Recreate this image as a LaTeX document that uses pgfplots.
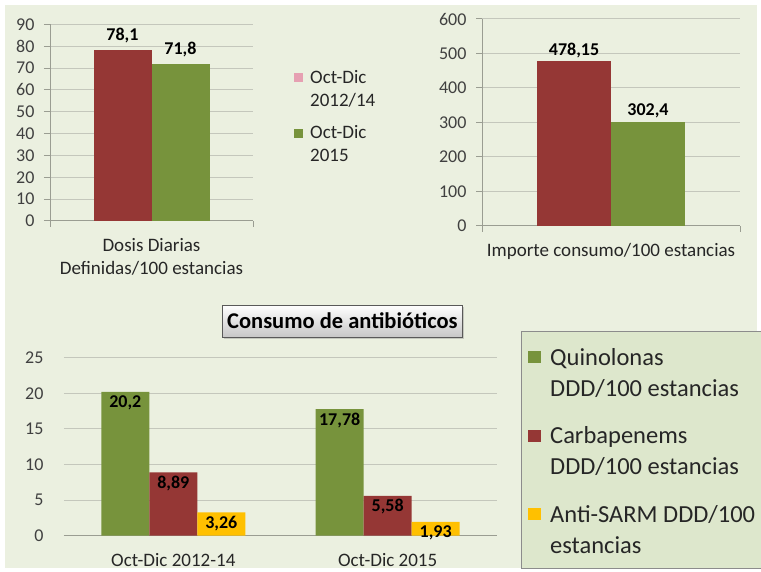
\documentclass[border=0pt]{standalone}
\usepackage{fontspec}
\setmainfont{Carlito}
\usepackage{pgfplots}
\pgfplotsset{compat=1.18}
\usetikzlibrary{shadows}
\definecolor{bgc}{HTML}{EBF0E0}
\definecolor{legc}{HTML}{DDE7CC}
\definecolor{redc}{HTML}{953735}
\definecolor{greenc}{HTML}{77933C}
\definecolor{yellowc}{HTML}{FFC000}
\definecolor{pinkc}{HTML}{E6A0B2}
\definecolor{gridc}{HTML}{C4C7BC}
\definecolor{axisc}{HTML}{9A9D92}
\definecolor{tickc}{HTML}{404040}
\definecolor{txtc}{HTML}{262626}
\pgfplotsset{
  mystyle/.style={
    scale only axis,
    axis x line*=bottom, axis y line*=left,
    axis line style={draw=axisc, line width=1pt},
    ymajorgrids, major grid style={draw=gridc, line width=1pt},
    tick style={draw=axisc, line width=1pt},
    tick align=outside,
    major tick length=6pt,
    /pgf/number format/assume math mode=true,
    /pgf/number format/1000 sep={},
    ticklabel style={font=\fontsize{18}{20}\selectfont, text=tickc},
    yticklabel style={xshift=-6pt},
    ymin=0,
    nodes near coords={\pgfmathprintnumber[use comma,fixed,precision=2,1000 sep={}]{\pgfplotspointmeta}},
    nodes near coords style={font=\bfseries\fontsize{18}{20}\selectfont, text=black},
    legend cell align=left,
  },
}
\begin{document}
\begin{tikzpicture}
\useasboundingbox (0,0) rectangle (761pt,571pt);
\fill[white] (0,0) rectangle (761pt,571pt);
\fill[bgc] (5pt,3pt) rectangle (757pt,566pt);
\filldraw[fill=legc, draw=black!45, line width=1pt] (521.7pt,239.3pt) rectangle (775pt,3pt);

% Chart 1
\begin{axis}[mystyle,
  at={(50pt,350pt)}, anchor=south west,
  width=203pt, height=196.7pt,
  ybar=0pt, bar width=58pt,
  xmin=-1, xmax=1, ymax=90, ytick={0,10,...,90},
  xtick={-1,1}, xticklabels={},
  extra x ticks={0},
  extra x tick labels={{Dosis Diarias\\Definidas/100 estancias}},
  extra x tick style={major tick length=0pt, xticklabel style={align=center, font=\fontsize{19}{23}\selectfont, text=txtc, yshift=-14pt}},
  nodes near coords style={yshift=4pt},
  legend style={at={(1.202,0.778)}, anchor=north west, draw=none, fill=none, inner sep=0pt,
    cells={anchor=west, align=left}, font=\fontsize{19}{23}\selectfont, text=txtc, row sep=14pt,
    /tikz/every odd column/.style={column sep=5pt}},
  legend image code/.code={\fill[#1, draw=none] (0pt,7pt) rectangle (9pt,16pt);},
]
\addplot[fill=redc, draw=none, legend image code/.code={\fill[pinkc] (0pt,7pt) rectangle (9pt,16pt);}] coordinates {(0,78.1)};
\addlegendentry{Oct-Dic\\2012/14}
\addplot[fill=greenc, draw=none] coordinates {(0,71.8)};
\addlegendentry{Oct-Dic\\2015}
\end{axis}

% Chart 2
\begin{axis}[mystyle,
  at={(482pt,345.3pt)}, anchor=south west,
  width=258pt, height=206.7pt,
  ybar=0pt, bar width=74pt,
  xmin=-1, xmax=1, ymax=600, ytick={0,100,...,600},
  xtick={-1,1}, xticklabels={},
  extra x ticks={0},
  extra x tick labels={{Importe consumo/100 estancias}},
  extra x tick style={major tick length=0pt, xticklabel style={align=center, font=\fontsize{19}{23}\selectfont, text=txtc, yshift=-14pt}},
]
\addplot[fill=redc, draw=none] coordinates {(0,478.15)};
\addplot[fill=greenc, draw=none] coordinates {(0,302.4)};
\end{axis}

% Chart 3
\begin{axis}[mystyle,
  at={(64pt,35.3pt)}, anchor=south west,
  width=433pt, height=178pt,
  ybar=0pt, bar width=48pt,
  xmin=-0.51, xmax=1.51, ymax=25, ytick={0,5,...,25},
  y axis line style={draw=none}, ytick style={draw=none},
  yticklabel style={xshift=-5pt},
  xtick={0,1}, xticklabels={Oct-Dic 2012-14, Oct-Dic 2015},
  xtick style={draw=none},
  xticklabel style={font=\fontsize{19}{23}\selectfont, text=txtc, yshift=-8pt},
  nodes near coords align={anchor=north},
  title={Consumo de antibióticos},
  title style={at={(0.643,1)}, anchor=center, yshift=30.7pt,
    font=\bfseries\fontsize{22.5}{25}\selectfont, text=black,
    draw=black!65, line width=0.8pt, top color=white, bottom color=black!22,
    minimum width=240pt, minimum height=32pt, inner sep=0pt,
    drop shadow={opacity=0.35, shadow xshift=1.5pt, shadow yshift=-1.5pt}},
  legend style={at={(1.0716,1.066)}, anchor=north west, draw=none, fill=none, inner sep=0pt,
    cells={anchor=west, align=left}, font=\fontsize{24.5}{31}\selectfont, text=txtc, row sep=25pt,
    /tikz/every odd column/.style={column sep=7pt}},
  legend image code/.code={\fill[#1, draw=none] (0pt,9.5pt) rectangle (13pt,21.5pt);},
]
\addplot[fill=greenc, draw=none] coordinates {(0,20.2) (1,17.78)};
\addlegendentry{Quinolonas\\DDD/100 estancias}
\addplot[fill=redc, draw=none] coordinates {(0,8.89) (1,5.58)};
\addlegendentry{Carbapenems\\DDD/100 estancias}
\addplot[fill=yellowc, draw=none] coordinates {(0,3.26) (1,1.93)};
\addlegendentry{Anti-SARM DDD/100\\estancias}
\end{axis}
\end{tikzpicture}
\end{document}
